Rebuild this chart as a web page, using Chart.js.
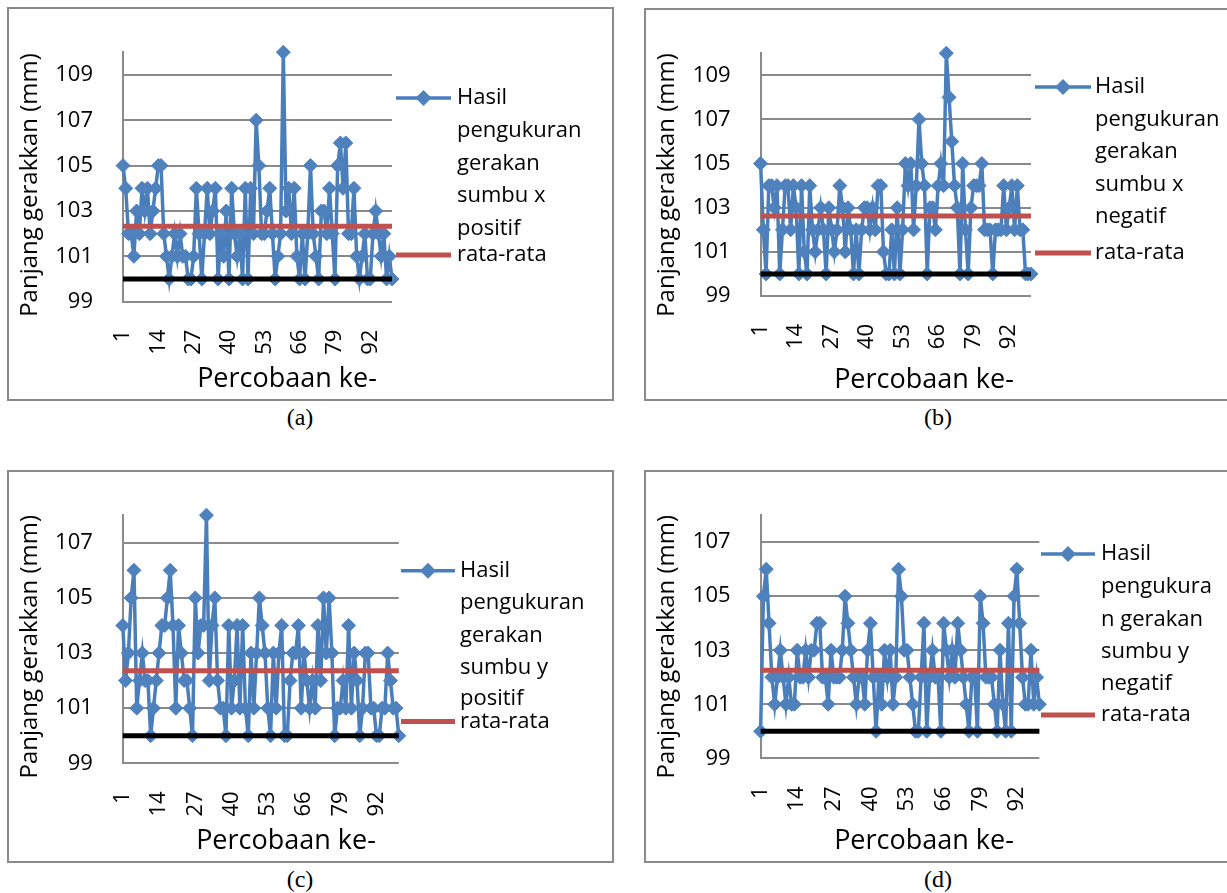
<!DOCTYPE html>
<html>
<head>
<meta charset="utf-8">
<script src="https://cdn.jsdelivr.net/npm/chart.js@4.4.1/dist/chart.umd.min.js"></script>
<style>
  html, body { margin: 0; padding: 0; background: #fff; overflow: hidden; width: 1227px; height: 893px; }
  .box { position: absolute; border: 2px solid #8a8a8a; box-sizing: border-box; background: #fff; overflow: hidden; }
  .box canvas { position: absolute; left: 0; top: 0; }
  .cap { position: absolute; width: 120px; margin-left: -60px; text-align: center;
         font-family: "Liberation Serif", "Times New Roman", serif; font-size: 24px; line-height: 26px; color: #000; }
</style>
</head>
<body>
<div class="box" id="boxA"><canvas id="chartA"></canvas></div>
<div class="box" id="boxB"><canvas id="chartB"></canvas></div>
<div class="box" id="boxC"><canvas id="chartC"></canvas></div>
<div class="box" id="boxD"><canvas id="chartD"></canvas></div>
<div class="cap" style="left:300px; top:404px">(a)</div>
<div class="cap" style="left:938px; top:404px">(b)</div>
<div class="cap" style="left:300px; top:866px">(c)</div>
<div class="cap" style="left:938px; top:866px">(d)</div>
<script>
// trial number on the x axis, only every 13th one gets a label
const trials = Array.from({length: 100}, (_, i) => i + 1);
const xTickLabels = [1, 14, 27, 40, 53, 66, 79, 92];
const yTicksSumbuX = [99, 101, 103, 105, 107, 109];
const yTicksSumbuY = [99, 101, 103, 105, 107];

// measured movement length (mm), 100 trials each
const sumbuXPositif = [105,104,102,102,101,103,102,104,103,104, 102,103,104,105,105,102,101,100,101,102,
  101,102,101,101,100,100,101,104,102,100, 102,104,102,103,104,100,102,101,103,100,
  104,102,101,102,100,104,100,104,102,107, 105,102,102,103,104,102,100,101,102,110,
  103,104,102,104,101,100,102,100,102,105, 102,101,100,103,103,102,104,102,100,105,
  106,104,106,102,102,104,101,100,101,102, 100,100,102,103,102,101,102,100,101,100];
const sumbuXNegatif = [105,102,100,104,104,103,104,100,102,104, 104,102,104,103,100,104,101,100,104,102,
  101,102,103,102,100,103,102,101,102,104, 103,101,103,102,100,102,100,102,103,103,
  102,103,102,104,104,101,100,100,102,100, 103,100,102,105,104,105,102,104,107,105,
  104,100,103,103,102,104,105,104,110,108, 106,104,103,100,105,102,100,103,104,104,
  104,105,102,102,102,100,102,102,102,104, 102,103,104,102,104,102,102,100,100,100];
const sumbuYPositif = [104,102,103,105,106,101,102,103,102,102, 100,101,102,103,104,104,105,106,104,101,
  104,103,102,102,101,100,105,103,104,104, 108,102,104,105,102,101,101,100,104,101,
  102,104,101,104,101,100,103,101,103,105, 104,103,101,100,103,101,103,104,100,100,
  102,103,103,104,101,103,102,101,102,101, 104,102,105,103,105,103,100,101,101,102,
  101,104,101,103,102,100,101,103,103,101, 101,100,100,101,101,103,102,101,101,100];
const sumbuYNegatif = [100,105,106,104,102,101,102,103,102,101, 102,101,101,103,102,102,103,102,103,103,
  104,104,102,102,101,103,102,102,102,103, 105,104,103,102,101,102,102,101,103,104,
  102,100,102,101,103,102,103,101,102,106, 105,103,103,102,101,100,100,102,104,100,
  102,103,102,102,100,104,103,102,103,102, 104,103,102,101,100,102,102,100,105,104,
  102,102,102,101,100,103,101,100,104,100, 105,106,104,102,101,101,103,101,102,101];

const rataSumbuXPositif = 102.33;
const rataSumbuXNegatif = 102.63;
const rataSumbuYPositif = 102.36;
const rataSumbuYNegatif = 102.26;
const target = 100;

const legendXPositif = ['Hasil', 'pengukuran', 'gerakan', 'sumbu x', 'positif'];
const legendXNegatif = ['Hasil', 'pengukuran', 'gerakan', 'sumbu x', 'negatif'];
const legendYPositif = ['Hasil', 'pengukuran', 'gerakan', 'sumbu y', 'positif'];
const legendYNegatif = ['Hasil', 'pengukura', 'n gerakan', 'sumbu y', 'negatif'];

const FONT = '"Open Sans", sans-serif';
const TICK_SIZE = 22, LEGEND_SIZE = 22, X_TITLE_SIZE = 27, Y_TITLE_SIZE = 24;

// page positions of each panel (box, plot area, legend, axis titles)
const panels = [
  { id: 'A', values: sumbuXPositif, mean: rataSumbuXPositif, yMax: 110, yTicks: yTicksSumbuX, legend: legendXPositif,
    box: [7, 7, 607, 394], area: [123, 392, 48.3, 301.7],
    leg: { x1: 396, x2: 451, tx: 457, ys: [98, 131, 163.5, 196, 228.5], meanY: 255 },
    xTitleAt: [287, 379], yTitleAt: [30, 185] },
  { id: 'B', values: sumbuXNegatif, mean: rataSumbuXNegatif, yMax: 110, yTicks: yTicksSumbuX, legend: legendXNegatif,
    box: [644, 8, 590, 393], area: [760.6, 1031, 48.3, 296],
    leg: { x1: 1035, x2: 1091, tx: 1095, ys: [87, 119.5, 152, 184.5, 217], meanY: 253 },
    xTitleAt: [924, 380], yTitleAt: [667, 185] },
  { id: 'C', values: sumbuYPositif, mean: rataSumbuYPositif, yMax: 108, yTicks: yTicksSumbuY, legend: legendYPositif,
    box: [7, 470, 607, 393], area: [122.8, 398.8, 510.7, 763.3],
    leg: { x1: 401, x2: 455, tx: 460, ys: [570.7, 603, 635.5, 668, 699], meanY: 721.5 },
    xTitleAt: [286, 841.7], yTitleAt: [30, 646.7] },
  { id: 'D', values: sumbuYNegatif, mean: rataSumbuYNegatif, yMax: 108, yTicks: yTicksSumbuY, legend: legendYNegatif,
    box: [644, 470, 590, 393], area: [760.6, 1039.4, 510.7, 758.3],
    leg: { x1: 1041, x2: 1095, tx: 1101, ys: [554, 587, 619.5, 652, 684], meanY: 715 },
    xTitleAt: [924, 841.7], yTitleAt: [667, 646.7] }
];

// axis titles and the wrapped Excel-style legend, drawn after the chart
function paperText(p, ox, oy) {
  return {
    id: 'paperText',
    afterDraw(chart) {
      const ctx = chart.ctx;
      const [main, mean] = chart.data.datasets;
      const lg = p.leg;
      ctx.save();
      ctx.translate(-ox, -oy);
      ctx.fillStyle = '#000';
      ctx.textBaseline = 'middle';
      ctx.textAlign = 'center';
      ctx.font = X_TITLE_SIZE + 'px ' + FONT;
      ctx.fillText('Percobaan ke-', p.xTitleAt[0], p.xTitleAt[1]);
      ctx.font = Y_TITLE_SIZE + 'px ' + FONT;
      ctx.save();
      ctx.translate(p.yTitleAt[0], p.yTitleAt[1]);
      ctx.rotate(-Math.PI / 2);
      ctx.fillText('Panjang gerakkan (mm)', 0, 0);
      ctx.restore();

      ctx.lineCap = 'butt';
      ctx.strokeStyle = main.borderColor;
      ctx.lineWidth = main.borderWidth;
      ctx.beginPath(); ctx.moveTo(lg.x1, lg.ys[0]); ctx.lineTo(lg.x2, lg.ys[0]); ctx.stroke();
      const cx = (lg.x1 + lg.x2) / 2, cy = lg.ys[0], r = 8;
      ctx.fillStyle = main.pointBackgroundColor;
      ctx.beginPath();
      ctx.moveTo(cx, cy - r); ctx.lineTo(cx + r, cy); ctx.lineTo(cx, cy + r); ctx.lineTo(cx - r, cy);
      ctx.closePath(); ctx.fill();
      ctx.strokeStyle = mean.borderColor;
      ctx.lineWidth = mean.borderWidth;
      ctx.beginPath(); ctx.moveTo(lg.x1, lg.meanY); ctx.lineTo(lg.x2, lg.meanY); ctx.stroke();

      ctx.fillStyle = '#000';
      ctx.textAlign = 'left';
      ctx.font = LEGEND_SIZE + 'px ' + FONT;
      p.legend.forEach((t, k) => ctx.fillText(t, lg.tx, lg.ys[k]));
      ctx.fillText(mean.label, lg.tx, lg.meanY);
      ctx.restore();
    }
  };
}

panels.forEach(p => {
  const [bl, bt, bw, bh] = p.box;
  Object.assign(document.getElementById('box' + p.id).style,
    { left: bl + 'px', top: bt + 'px', width: bw + 'px', height: bh + 'px' });
  const ox = bl + 2, oy = bt + 2;   // canvas sits inside the 2px border
  const cw = bw - 4, ch = bh - 4;
  const canvas = document.getElementById('chart' + p.id);
  canvas.width = cw;
  canvas.height = ch;
  const [L, R, T, B] = p.area;

  new Chart(canvas, {
    type: 'line',
    data: {
      datasets: [
        {
          label: p.legend.join(' '),
          data: p.values.map((v, i) => ({ x: trials[i], y: v })),
          borderColor: '#4A7EBB', borderWidth: 3.5, tension: 0,
          pointStyle: 'rectRot', pointRadius: 7, pointBorderWidth: 1,
          pointBackgroundColor: '#4F81BD', pointBorderColor: '#4F81BD',
          order: 2, clip: false
        },
        {
          label: 'rata-rata',
          data: [{ x: trials[0], y: p.mean }, { x: trials[trials.length - 1], y: p.mean }],
          borderColor: '#C0504D', borderWidth: 5, pointRadius: 0, order: 1, clip: false
        },
        {
          label: 'target',
          data: [{ x: trials[0], y: target }, { x: trials[trials.length - 1], y: target }],
          borderColor: '#000000', borderWidth: 5, pointRadius: 0, order: 0, clip: false
        }
      ]
    },
    options: {
      responsive: false,
      animation: false,
      devicePixelRatio: 1,
      layout: { padding: { left: 0, top: T - oy, right: cw - (R - ox), bottom: 0 } },
      plugins: { legend: { display: false }, tooltip: { enabled: false } },
      scales: {
        x: {
          type: 'linear', min: trials[0], max: trials[trials.length - 1],
          afterBuildTicks: s => { s.ticks = xTickLabels.map(v => ({ value: v })); },
          afterFit: s => { s.height = ch - (B - oy); },
          grid: { display: false },
          border: { display: false },
          ticks: { autoSkip: false, minRotation: 90, maxRotation: 90, padding: 20, color: '#000',
                   font: { family: FONT, size: TICK_SIZE } }
        },
        y: {
          min: 99, max: p.yMax,
          afterBuildTicks: s => { s.ticks = p.yTicks.map(v => ({ value: v })); },
          afterFit: s => { s.width = L - ox; },
          grid: { color: '#8a8a8a', lineWidth: 2, drawTicks: false },
          border: { color: '#8a8a8a', width: 2 },
          ticks: { padding: 30, color: '#000', font: { family: FONT, size: TICK_SIZE } }
        }
      }
    },
    plugins: [paperText(p, ox, oy)]
  });
});
</script>
</body>
</html>
